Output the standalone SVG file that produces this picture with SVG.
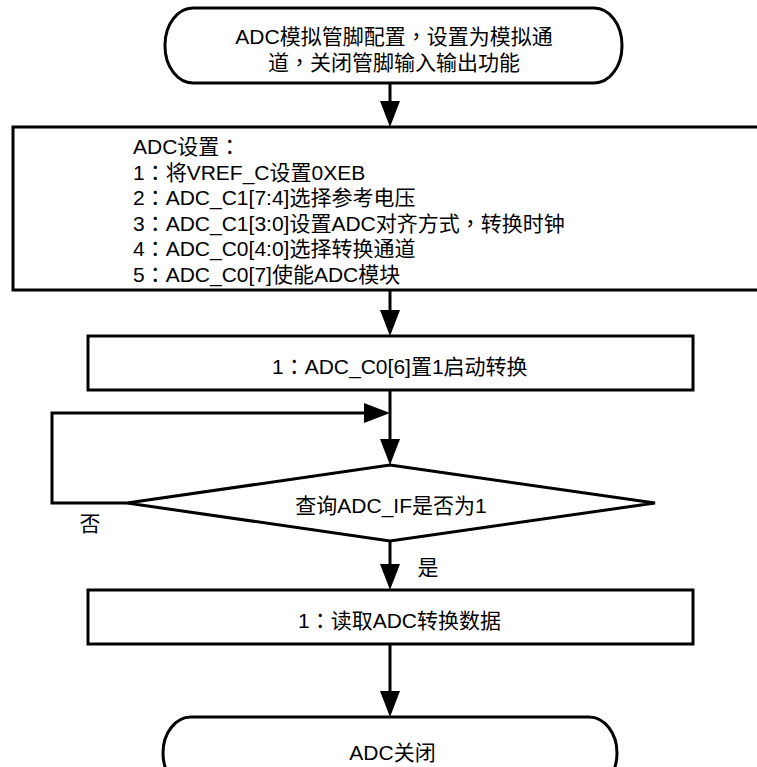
<svg xmlns="http://www.w3.org/2000/svg" width="757" height="767" viewBox="0 0 757 767">
<style>
.shape{fill:#fff;stroke:#000;stroke-width:3;stroke-linejoin:miter}
.conn{fill:none;stroke:#000;stroke-width:3}
text{font-family:"Liberation Sans","Noto Sans CJK SC",Arial,sans-serif;font-size:21px;fill:#000}
.p{font-family:"Noto Sans CJK TC",sans-serif}
.c{text-anchor:middle}
</style>
<defs>
<marker id="arr" viewBox="0 0 26 20" refX="16" refY="10" markerWidth="26" markerHeight="20" markerUnits="userSpaceOnUse" orient="auto">
<path d="M0 0 L26 10 L0 20 Z" fill="#000"/>
</marker>
</defs>
<rect width="757" height="767" fill="#fff"/>
<g id="connectors">
<path class="conn" d="M390 84 V117" marker-end="url(#arr)"/>
<path class="conn" d="M390 291 V326" marker-end="url(#arr)"/>
<path class="conn" d="M390 391 V455" marker-end="url(#arr)"/>
<path class="conn" d="M127 503 H52 V413 H380" marker-end="url(#arr)"/>
<path class="conn" d="M390 541 V580" marker-end="url(#arr)"/>
<path class="conn" d="M390 645 V707" marker-end="url(#arr)"/>
</g>
<g id="start">
<rect class="shape" x="165" y="8" width="457" height="75" rx="28" ry="37"/>
<text class="c" x="394" y="43.5">ADC模拟管脚配置<tspan class="p">，</tspan>设置为模拟通</text>
<text class="c" x="394" y="69.5">道<tspan class="p">，</tspan>关闭管脚输入输出功能</text>
</g>
<g id="setup">
<rect class="shape" x="13" y="127" width="760" height="163"/>
<text x="133" y="154">ADC设置<tspan class="p">：</tspan></text>
<text x="133" y="179.5">1<tspan class="p">：</tspan>将VREF_C设置0XEB</text>
<text x="133" y="205">2<tspan class="p">：</tspan>ADC_C1[7:4]选择参考电压</text>
<text x="133" y="230.5">3<tspan class="p">：</tspan>ADC_C1[3:0]设置ADC对齐方式<tspan class="p">，</tspan>转换时钟</text>
<text x="133" y="256">4<tspan class="p">：</tspan>ADC_C0[4:0]选择转换通道</text>
<text x="133" y="281.5">5<tspan class="p">：</tspan>ADC_C0[7]使能ADC模块</text>
</g>
<g id="startconv">
<rect class="shape" x="88" y="336" width="605" height="54"/>
<text x="272" y="373.5">1<tspan class="p">：</tspan>ADC_C0[6]置1启动转换</text>
</g>
<g id="query">
<path class="shape" d="M390 465 L655 503 L390 541 L127 503 Z"/>
<text class="c" x="391" y="512.5">查询ADC_IF是否为1</text>
</g>
<g id="labels">
<text class="c" x="90" y="530.5">否</text>
<text class="c" x="428" y="574.5">是</text>
</g>
<g id="read">
<rect class="shape" x="88" y="590" width="605" height="54"/>
<text x="298" y="627.5">1<tspan class="p">：</tspan>读取ADC转换数据</text>
</g>
<g id="end">
<rect class="shape" x="163" y="717" width="454" height="72" rx="28" ry="36"/>
<text class="c" x="392.5" y="759.5">ADC关闭</text>
</g>
</svg>
